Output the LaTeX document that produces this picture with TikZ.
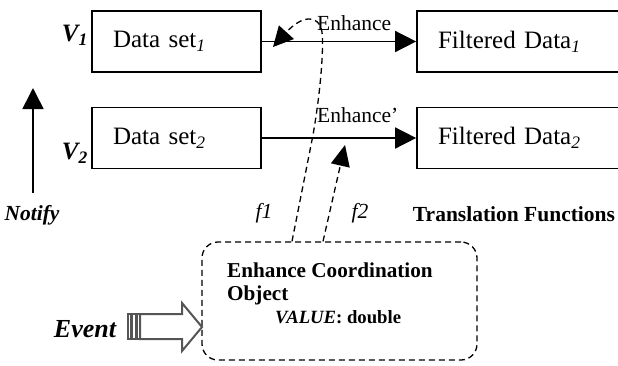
\documentclass[tikz,border=0pt]{standalone}
\usepackage{fontspec}
\setmainfont{Liberation Serif}
\usetikzlibrary{arrows.meta}
\definecolor{eventgray}{HTML}{555555}
\newcommand{\fsBox}{\fontsize{25pt}{29pt}\selectfont}
\newcommand{\fsLabel}{\fontsize{21.5pt}{24pt}\selectfont}
\newcommand{\fsObject}{\fontsize{21.2pt}{23pt}\selectfont}
\newcommand{\fsValue}{\fontsize{18.7pt}{23pt}\selectfont}
\newcommand{\fsEvent}{\fontsize{26pt}{30pt}\selectfont}
\tikzset{
    databox/.style = {draw, rectangle, line width = 1.7pt, inner xsep = 21pt, inner ysep = 0pt, align = left, minimum height = 61pt, font = \fsBox},
    link/.style = {line width = 1.6pt, -{Triangle[length = 21pt, width = 21pt]}},
    trans/.style = {line width = 1.3pt, dash pattern = on 6pt off 4pt},
    lbl/.style = {inner sep = 0pt, font = \fsLabel}
}

\begin{document}
\begin{tikzpicture}[x = 1pt, y = -1pt]
        \clip (0, 0) rectangle (618, 365);

        % Nodes
        \node [databox, text width = 127pt] (ds1) at (176.5, 41.5) {Data set\textsubscript{\textit{1}}};
        \node [databox, text width = 127pt] (ds2) at (176.5, 138) {Data set\textsubscript{\textit{2}}};
        \node [databox, text width = 181pt] (fd1) at (528.5, 41.5) {Filtered Data\textsubscript{\textit{1}}};
        \node [databox, text width = 181pt] (fd2) at (528.5, 138) {Filtered Data\textsubscript{\textit{2}}};
        \node [trans, draw, rectangle, rounded corners = 16pt, minimum width = 275pt, minimum height = 118pt] (eco) at (339.5, 301) {};
        \node [anchor = north west, inner sep = 0pt, align = left, font = \fsObject\bfseries] (ecotext) at (227, 263) {Enhance Coordination\\Object\\{\fsValue\hspace*{48pt}\textit{VALUE}: double}};

        % View labels
        \node [anchor = east, inner sep = 0pt, font = \fsBox\bfseries\itshape] (v1) at (88, 35) {V\textsubscript{1}};
        \node [anchor = east, inner sep = 0pt, font = \fsBox\bfseries\itshape] (v2) at (88, 153) {V\textsubscript{2}};
        \node [lbl, font = \fsLabel\bfseries\itshape] (notify) at (32, 215) {Notify};
        \node [inner sep = 0pt, font = \fsEvent\bfseries\itshape] (event) at (85, 329) {Event};
        \node [lbl, anchor = west] (enh1) at (317, 23) {Enhance};
        \node [lbl, anchor = west] (enh2) at (317, 115) {Enhance’};
        \node [lbl, font = \fsLabel\itshape] (f1) at (264, 213) {f1};
        \node [lbl, font = \fsLabel\itshape] (f2) at (360, 213) {f2};
        \node [lbl, font = \fsLabel\bfseries] (tf) at (514, 214) {Translation Functions};

        % Free ends
        \coordinate (n0) at (33, 193);
        \coordinate (n1) at (33, 88);
        \coordinate (e1) at (273, 47);
        \coordinate (e2) at (345, 145);
        \coordinate (ev) at (202, 327);

        % Draw the links
        \draw [link] (ds1) -- (fd1);
        \draw [link] (ds2) -- (fd2);
        \draw [link] (n0) -- (n1);
        \draw [trans, -{Triangle[length = 20pt, width = 20pt]}] ([xshift = -47.5pt]eco.north) -- (313, 135) .. controls (320, 95) and (324, 50) .. (322, 32) .. controls (319, 14) and (302, 15) .. (e1);
        \draw [trans, -{Triangle[length = 21pt, width = 19pt]}] ([xshift = -16.5pt]eco.north) -- (e2);

        % Event arrow
        \draw [eventgray, line width = 2pt, line join = miter] (140, 314) -- (182, 314) -- (182, 303) -- (ev) -- (182, 351) -- (182, 339) -- (140, 339) -- cycle;
        \draw [eventgray, line width = 1.1pt] (128, 314) rectangle (131, 339);
        \draw [eventgray, line width = 1.1pt] (132.5, 314) rectangle (135.5, 339);
        \draw [eventgray, line width = 1.1pt] (137, 314) rectangle (140, 339);

\end{tikzpicture}
\end{document}
